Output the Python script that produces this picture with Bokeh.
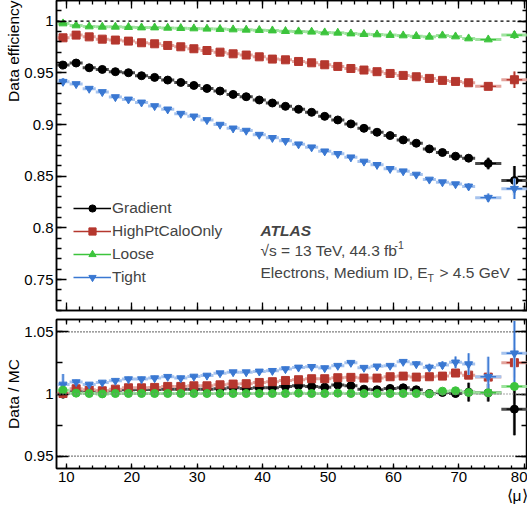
import numpy as np
from bokeh.plotting import figure
from bokeh.layouts import column
from bokeh.models import (CustomJSTickFormatter, CustomLabelingPolicy, FixedTicker, Label,
                          Legend, LegendItem, LinearAxis, Range1d, Span, Title)
from bokeh.embed import file_html
from bokeh.resources import INLINE

FONT = "Liberation Sans"

# <mu> bin edges (last two bins are wider)
mu_edges = [8.5, 10.5, 12.5, 14.5, 16.5, 18.5, 20.5, 22.5, 24.5, 26.5, 28.5, 30.5,
            32.5, 34.5, 36.5, 38.5, 40.5, 42.5, 44.5, 46.5, 48.5, 50.5, 52.5, 54.5,
            56.5, 58.5, 60.5, 62.5, 64.5, 66.5, 68.5, 70.5, 72.5, 76.5, 80.5]

# Data efficiencies per isolation working point
eff_gradient = [0.9575, 0.9595, 0.9549, 0.9533, 0.9511, 0.9501, 0.9472, 0.9456, 0.9430, 0.9407,
                0.9378, 0.9349, 0.9324, 0.9291, 0.9269, 0.9237, 0.9208, 0.9176, 0.9147, 0.9118,
                0.9079, 0.9044, 0.9006, 0.8963, 0.8925, 0.8893, 0.8851, 0.8819, 0.8764, 0.8729,
                0.8693, 0.8674, 0.8623, 0.8458]
eff_gradient_err = [0.0030, 0.0012, 0.0010, 0.0010, 0.0010, 0.0010, 0.0010, 0.0010, 0.0010, 0.0010,
                    0.0010, 0.0010, 0.0010, 0.0010, 0.0010, 0.0010, 0.0010, 0.0010, 0.0010, 0.0010,
                    0.0010, 0.0010, 0.0010, 0.0010, 0.0010, 0.0011, 0.0011, 0.0012, 0.0013, 0.0015,
                    0.0020, 0.0035, 0.0055, 0.0140]

eff_calo = [0.9839, 0.9865, 0.9848, 0.9826, 0.9817, 0.9807, 0.9791, 0.9781, 0.9765, 0.9752,
            0.9733, 0.9716, 0.9700, 0.9684, 0.9672, 0.9655, 0.9633, 0.9626, 0.9610, 0.9597,
            0.9578, 0.9562, 0.9542, 0.9527, 0.9511, 0.9494, 0.9475, 0.9462, 0.9446, 0.9427,
            0.9417, 0.9404, 0.9369, 0.9433]
eff_calo_err = [0.0020, 0.0010, 0.0010, 0.0010, 0.0010, 0.0010, 0.0010, 0.0010, 0.0010, 0.0010,
                0.0010, 0.0010, 0.0010, 0.0010, 0.0010, 0.0010, 0.0010, 0.0010, 0.0010, 0.0010,
                0.0010, 0.0010, 0.0010, 0.0010, 0.0010, 0.0010, 0.0010, 0.0010, 0.0011, 0.0012,
                0.0014, 0.0020, 0.0030, 0.0080]

eff_loose = [0.9977, 0.9958, 0.9948, 0.9945, 0.9945, 0.9942, 0.9938, 0.9938, 0.9935, 0.9932,
             0.9929, 0.9926, 0.9923, 0.9919, 0.9916, 0.9913, 0.9909, 0.9903, 0.9900, 0.9897,
             0.9890, 0.9887, 0.9880, 0.9874, 0.9871, 0.9865, 0.9861, 0.9855, 0.9848, 0.9861,
             0.9851, 0.9832, 0.9822, 0.9865]
eff_loose_err = [0.0015, 0.0008, 0.0008, 0.0008, 0.0008, 0.0008, 0.0008, 0.0008, 0.0008, 0.0008,
                 0.0008, 0.0008, 0.0008, 0.0008, 0.0008, 0.0008, 0.0008, 0.0008, 0.0008, 0.0008,
                 0.0008, 0.0008, 0.0008, 0.0008, 0.0008, 0.0008, 0.0008, 0.0008, 0.0008, 0.0009,
                 0.0010, 0.0012, 0.0015, 0.0035]

eff_tight = [0.9414, 0.9392, 0.9347, 0.9315, 0.9266, 0.9243, 0.9214, 0.9179, 0.9147, 0.9105,
             0.9079, 0.9044, 0.8999, 0.8963, 0.8941, 0.8902, 0.8871, 0.8842, 0.8809, 0.8780,
             0.8741, 0.8716, 0.8683, 0.8642, 0.8610, 0.8571, 0.8548, 0.8516, 0.8468, 0.8442,
             0.8423, 0.8401, 0.8292, 0.8378]
eff_tight_err = [0.0035, 0.0010, 0.0010, 0.0010, 0.0010, 0.0010, 0.0010, 0.0010, 0.0010, 0.0010,
                 0.0010, 0.0010, 0.0010, 0.0010, 0.0010, 0.0010, 0.0010, 0.0010, 0.0010, 0.0010,
                 0.0010, 0.0010, 0.0010, 0.0010, 0.0010, 0.0010, 0.0011, 0.0011, 0.0012, 0.0014,
                 0.0018, 0.0030, 0.0040, 0.0100]

# Data / MC scale factors
sf_gradient = [1.0004, 1.0018, 1.0020, 1.0023, 1.0031, 1.0034, 1.0037, 1.0037, 1.0039, 1.0039,
               1.0039, 1.0039, 1.0042, 1.0050, 1.0045, 1.0050, 1.0050, 1.0061, 1.0066, 1.0061,
               1.0055, 1.0072, 1.0066, 1.0039, 1.0034, 1.0045, 1.0050, 1.0034, 1.0004, 1.0012,
               1.0004, 1.0015, 1.0010, 0.9878]
sf_gradient_err = [0.0040, 0.0015, 0.0015, 0.0015, 0.0015, 0.0015, 0.0015, 0.0015, 0.0015, 0.0015,
                   0.0015, 0.0015, 0.0015, 0.0015, 0.0015, 0.0015, 0.0015, 0.0015, 0.0015, 0.0015,
                   0.0015, 0.0015, 0.0015, 0.0015, 0.0015, 0.0015, 0.0015, 0.0016, 0.0018, 0.0020,
                   0.0030, 0.0075, 0.0070, 0.0210]

sf_calo = [1.0004, 1.0042, 1.0034, 1.0026, 1.0039, 1.0050, 1.0050, 1.0053, 1.0061, 1.0061,
           1.0066, 1.0066, 1.0074, 1.0080, 1.0083, 1.0093, 1.0099, 1.0109, 1.0115, 1.0123,
           1.0123, 1.0131, 1.0134, 1.0128, 1.0128, 1.0139, 1.0144, 1.0136, 1.0139, 1.0144,
           1.0169, 1.0152, 1.0136, 1.0252]
sf_calo_err = [0.0020, 0.0012, 0.0012, 0.0012, 0.0012, 0.0012, 0.0012, 0.0012, 0.0012, 0.0012,
               0.0012, 0.0012, 0.0012, 0.0012, 0.0012, 0.0012, 0.0012, 0.0012, 0.0012, 0.0012,
               0.0012, 0.0012, 0.0012, 0.0012, 0.0012, 0.0012, 0.0012, 0.0013, 0.0014, 0.0016,
               0.0020, 0.0030, 0.0040, 0.0120]

sf_loose = [1.0031, 1.0007, 1.0004, 1.0001, 1.0004, 1.0004, 1.0004, 1.0004, 1.0004, 1.0004,
            1.0004, 1.0004, 1.0004, 1.0004, 1.0004, 1.0004, 1.0004, 1.0004, 1.0007, 1.0004,
            1.0004, 1.0007, 1.0004, 1.0004, 1.0004, 1.0004, 1.0004, 1.0004, 1.0001, 1.0023,
            1.0026, 1.0012, 1.0010, 1.0061]
sf_loose_err = [0.0020, 0.0008, 0.0008, 0.0008, 0.0008, 0.0008, 0.0008, 0.0008, 0.0008, 0.0008,
                0.0008, 0.0008, 0.0008, 0.0008, 0.0008, 0.0008, 0.0008, 0.0008, 0.0008, 0.0008,
                0.0008, 0.0008, 0.0008, 0.0008, 0.0008, 0.0008, 0.0008, 0.0008, 0.0009, 0.0010,
                0.0012, 0.0025, 0.0020, 0.0030]

sf_tight = [1.0077, 1.0096, 1.0077, 1.0093, 1.0107, 1.0120, 1.0120, 1.0128, 1.0139, 1.0128,
            1.0141, 1.0149, 1.0168, 1.0176, 1.0176, 1.0182, 1.0187, 1.0201, 1.0214, 1.0219,
            1.0209, 1.0228, 1.0252, 1.0212, 1.0223, 1.0228, 1.0260, 1.0241, 1.0214, 1.0233,
            1.0255, 1.0241, 1.0139, 1.0328]
sf_tight_err = [0.0085, 0.0018, 0.0018, 0.0018, 0.0018, 0.0018, 0.0018, 0.0018, 0.0018, 0.0018,
                0.0018, 0.0018, 0.0018, 0.0018, 0.0018, 0.0018, 0.0018, 0.0018, 0.0018, 0.0018,
                0.0018, 0.0018, 0.0018, 0.0018, 0.0018, 0.0018, 0.0020, 0.0022, 0.0030, 0.0030,
                0.0047, 0.0088, 0.0160, 0.0260]

series_names = ["Gradient", "HighPtCaloOnly", "Loose", "Tight"]

lo = np.array(mu_edges[:-1])
hi = np.array(mu_edges[1:])
mu = 0.5 * (lo + hi)

BLACK, BLACK_L = "#000000", "#4a4a4a"
RED, RED_L = "#b5372e", "#e3a39c"
GREEN, GREEN_L = "#3cc43c", "#9fe39f"
BLUE, BLUE_L = "#3a78d2", "#a6c3ee"

tick_fmt = CustomJSTickFormatter(code="return String(parseFloat(tick.toFixed(3)));")
# tick marks only (mirror axes on the top / right of each frame)
no_labels = CustomLabelingPolicy(code="for (const i of indices) { if (false) yield i }")


def draw_points(p, y, err, color, light, marker, size):
    y = np.array(y)
    e = np.array(err)
    half = 0.5 * (hi - lo)
    p.segment(x0=lo, y0=y, x1=hi, y1=y, line_color=light, line_width=3)
    p.segment(x0=mu, y0=y - e, x1=mu, y1=y + e, line_color=light, line_width=3)
    dark_h = p.segment(x0=mu - 0.6 * half, y0=y, x1=mu + 0.6 * half, y1=y,
                       line_color=color, line_width=1.3)
    p.segment(x0=mu, y0=y - e, x1=mu, y1=y + e, line_color=color, line_width=1.3)
    pts = p.scatter(x=mu, y=y, marker=marker, size=size, fill_color=color, line_color=color)
    return dark_h, pts


def style_axis(ax, major_in, minor_in, ticker, labels):
    ax.ticker = ticker
    ax.major_tick_in = major_in
    ax.major_tick_out = 0
    ax.minor_tick_in = minor_in
    ax.minor_tick_out = 0
    ax.major_tick_line_width = 1.3
    ax.minor_tick_line_width = 1.3
    ax.axis_line_width = 1.5
    ax.axis_line_color = "black"
    if labels:
        ax.formatter = tick_fmt
        ax.major_label_text_font = FONT
        ax.major_label_text_font_size = "15px"
        ax.major_label_text_color = "black"
        ax.major_label_standoff = 3
    else:
        ax.major_label_policy = no_labels
        ax.major_label_text_font_size = "0px"
        ax.major_label_standoff = 0


def side_title(text, align):
    return Title(text=text, align=align, text_font=FONT, text_font_size="15.5px",
                 text_font_style="normal", text_color="black", standoff=0, offset=0)


x_major = [10, 20, 30, 40, 50, 60, 70, 80]
x_minor = list(range(10, 81, 2))

# ---------------- efficiency panel ----------------
top = figure(width=527, height=314, output_backend="svg", toolbar_location=None,
             x_range=Range1d(8.5, 80.5), y_range=Range1d(0.72, 1.02),
             min_border_left=56, min_border_right=0, min_border_top=0, min_border_bottom=4,
             x_axis_location=None, y_axis_location=None)
top.grid.visible = False
top.outline_line_color = "black"
top.outline_line_width = 1.5
top.background_fill_color = "white"
top.border_fill_color = "white"

y_top_ticker = FixedTicker(ticks=[0.75, 0.8, 0.85, 0.9, 0.95, 1.0],
                           minor_ticks=list(np.round(np.arange(0.72, 1.021, 0.01), 3)))
x_ticker = FixedTicker(ticks=x_major, minor_ticks=x_minor)

for loc, lab in (("left", True), ("right", False)):
    ax = LinearAxis()
    style_axis(ax, 10, 5, y_top_ticker, lab)
    top.add_layout(ax, loc)
for loc in ("below", "above"):
    ax = LinearAxis()
    style_axis(ax, 8, 4, x_ticker, False)
    top.add_layout(ax, loc)

top.add_layout(side_title("Data efficiency", "right"), "left")

top.add_layout(Span(location=1.0, dimension="width", line_color="black",
                    line_width=1.2, line_dash="3 3"))

legend_items = []
for name, y, e, c, l, m, s in (
        ("Gradient", eff_gradient, eff_gradient_err, BLACK, BLACK_L, "circle", 8),
        ("HighPtCaloOnly", eff_calo, eff_calo_err, RED, RED_L, "square", 8),
        ("Loose", eff_loose, eff_loose_err, GREEN, GREEN_L, "triangle", 8),
        ("Tight", eff_tight, eff_tight_err, BLUE, BLUE_L, "inverted_triangle", 8)):
    dark_h, pts = draw_points(top, y, e, c, l, m, s)
    legend_items.append(LegendItem(label=name, renderers=[dark_h, pts]))

legend = Legend(items=legend_items, location=(17, 24), padding=0, margin=0,
                spacing=5, glyph_width=38, glyph_height=18, label_height=18,
                label_standoff=1, label_text_font=FONT, label_text_font_size="15.5px",
                border_line_alpha=0, background_fill_alpha=0)
top.add_layout(legend)

top.add_layout(Label(x=204, y=80, x_units="screen", y_units="screen", text="ATLAS",
                     text_font=FONT, text_font_size="15.5px", text_font_style="bold italic",
                     text_baseline="alphabetic"))
top.add_layout(Label(x=204, y=60, x_units="screen", y_units="screen",
                     text="\u221as = 13 TeV, 44.3 fb",
                     text_font=FONT, text_font_size="15.5px", text_baseline="alphabetic"))
top.add_layout(Label(x=338, y=66, x_units="screen", y_units="screen", text="-1",
                     text_font=FONT, text_font_size="10.5px", text_baseline="alphabetic"))
top.add_layout(Label(x=204, y=38, x_units="screen", y_units="screen",
                     text="Electrons, Medium ID, E",
                     text_font=FONT, text_font_size="15.5px", text_baseline="alphabetic"))
top.add_layout(Label(x=371, y=33, x_units="screen", y_units="screen", text="T",
                     text_font=FONT, text_font_size="10.5px", text_baseline="alphabetic"))
top.add_layout(Label(x=383, y=38, x_units="screen", y_units="screen", text="> 4.5 GeV",
                     text_font=FONT, text_font_size="15.5px", text_baseline="alphabetic"))

# ---------------- ratio panel ----------------
bot = figure(width=527, height=198, output_backend="svg", toolbar_location=None,
             x_range=top.x_range, y_range=Range1d(0.94, 1.06),
             min_border_left=56, min_border_right=0, min_border_top=5, min_border_bottom=44,
             x_axis_location=None, y_axis_location=None)
bot.grid.visible = False
bot.outline_line_color = "black"
bot.outline_line_width = 1.5
bot.background_fill_color = "white"
bot.border_fill_color = "white"

y_bot_ticker = FixedTicker(ticks=[0.95, 1.0, 1.05],
                           minor_ticks=[0.95, 0.975, 1.0, 1.025, 1.05])
for loc, lab in (("left", True), ("right", False)):
    ax = LinearAxis()
    style_axis(ax, 12, 6, y_bot_ticker, lab)
    bot.add_layout(ax, loc)
for loc, lab in (("below", True), ("above", False)):
    ax = LinearAxis()
    style_axis(ax, 5, 3, x_ticker, lab)
    bot.add_layout(ax, loc)

bot.add_layout(side_title("Data / MC", "center"), "left")
bot.add_layout(side_title("\u27e8\u03bc\u27e9", "right"), "below")

for loc, col in ((1.05, "black"), (0.95, "black"), (1.0, "#888888")):
    bot.add_layout(Span(location=loc, dimension="width", line_color=col,
                        line_width=1.3, line_dash="1 2"))

for y, e, c, l, m, s in (
        (sf_gradient, sf_gradient_err, BLACK, BLACK_L, "circle", 8),
        (sf_calo, sf_calo_err, RED, RED_L, "square", 8),
        (sf_tight, sf_tight_err, BLUE, BLUE_L, "inverted_triangle", 8),
        (sf_loose, sf_loose_err, GREEN, GREEN_L, "circle", 8)):
    draw_points(bot, y, e, c, l, m, s)

layout = column(top, bot, spacing=0)
open("out.html", "w").write(file_html(layout, INLINE))
